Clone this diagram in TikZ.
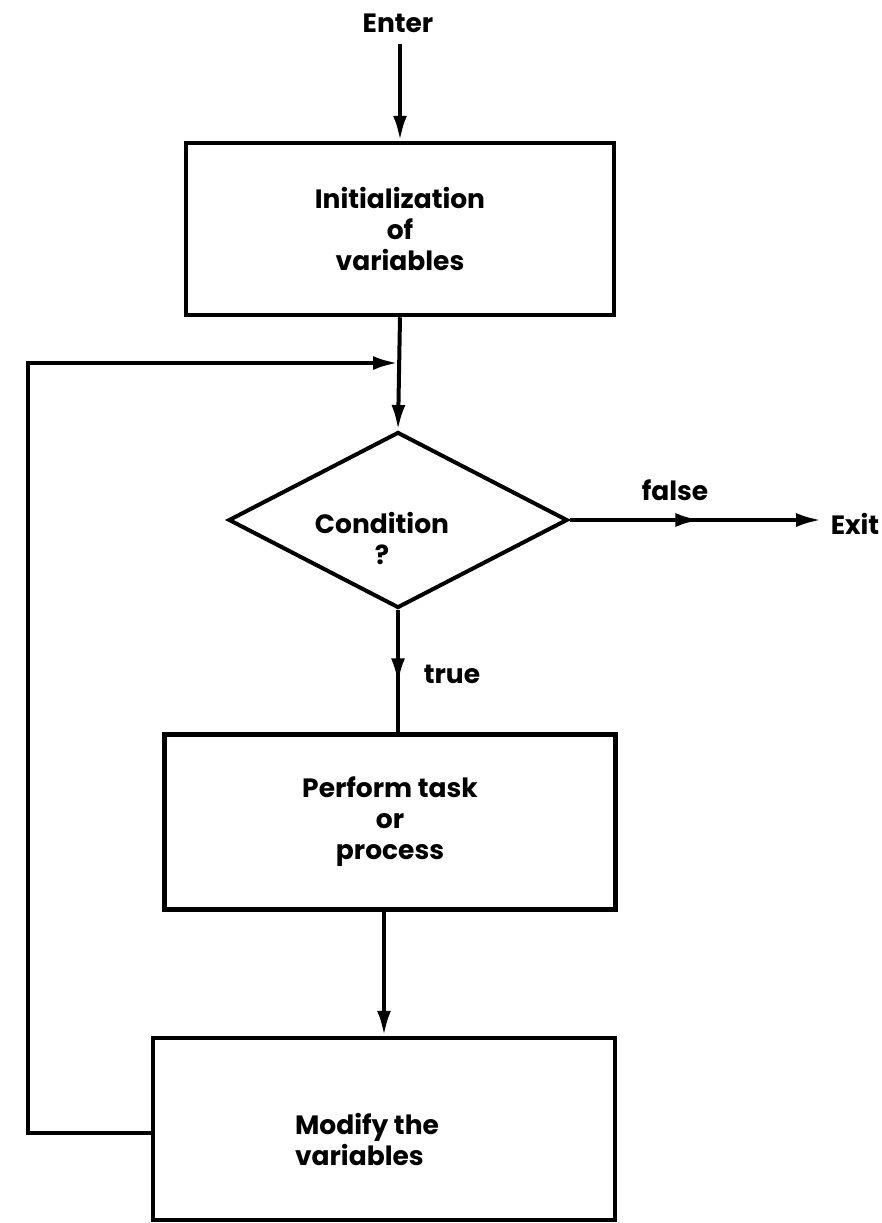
\documentclass[tikz,border=0pt]{standalone}
\usepackage{fontspec}
\setmainfont{Poppins}
\usetikzlibrary{shapes.geometric,arrows.meta,decorations.markings}
\begin{document}
\begin{tikzpicture}[x=1pt,y=-1pt,
  txt/.style={font=\bfseries\fontsize{26.5}{31}\selectfont, align=center},
  box/.style={draw, line width=4.5pt, txt, inner sep=0pt},
  wire/.style={line width=4pt},
  flow/.style={wire, -{Latex[length=25pt,width=14pt]}},
  midflow/.style={wire, postaction={decorate}, decoration={markings,
      mark=at position #1 with {\arrow{Latex[length=25pt,width=14pt]}}}}]
\useasboundingbox[fill=white] (0,0) rectangle (882,1223);
\node[txt] (enter) at (398,23) {Enter};
\node[box, minimum width=428pt, minimum height=172pt] (init) at (400,229) {Initialization\\of\\variables};
\node[box, diamond, line width=4pt, minimum width=339pt, minimum height=176pt] (cond) at (398,520) {};
\node[txt] (condtxt) at (382,538) {Condition\\?};
\node[box, minimum width=451pt, minimum height=175pt] (task) at (390,822) {Perform task\\or\\process};
\node[box, minimum width=462pt, minimum height=182pt] (mod) at (384,1129) {};
\node[txt, align=left] (modtxt) at (367,1139) {Modify the\\variables};
\node[txt] (exit) at (855,524) {Exit};
\node[txt] (false) at (675,490) {false};
\node[txt] (true) at (452,674) {true};
\coordinate (lc) at (28,1133);
\coordinate (tc) at (28,363);
% connectors
\draw[flow] ([yshift=-8pt]init.north |- enter.south) -- (init.north);
\draw[flow] (init.south) -- (cond.north);
\draw[midflow=0.52, -{Latex[length=25pt,width=14pt]}] (cond.east) -- ([xshift=-6pt]exit.west |- cond.east);
\draw[midflow=0.6] (cond.south) -- (cond.south |- task.north);
\draw[flow] (task.south -| mod.north) -- (mod.north);
\draw[flow, shorten >=2pt] (lc -| mod.west) -- (lc) -- (tc) -- (tc -| init.south);
\end{tikzpicture}
\end{document}
